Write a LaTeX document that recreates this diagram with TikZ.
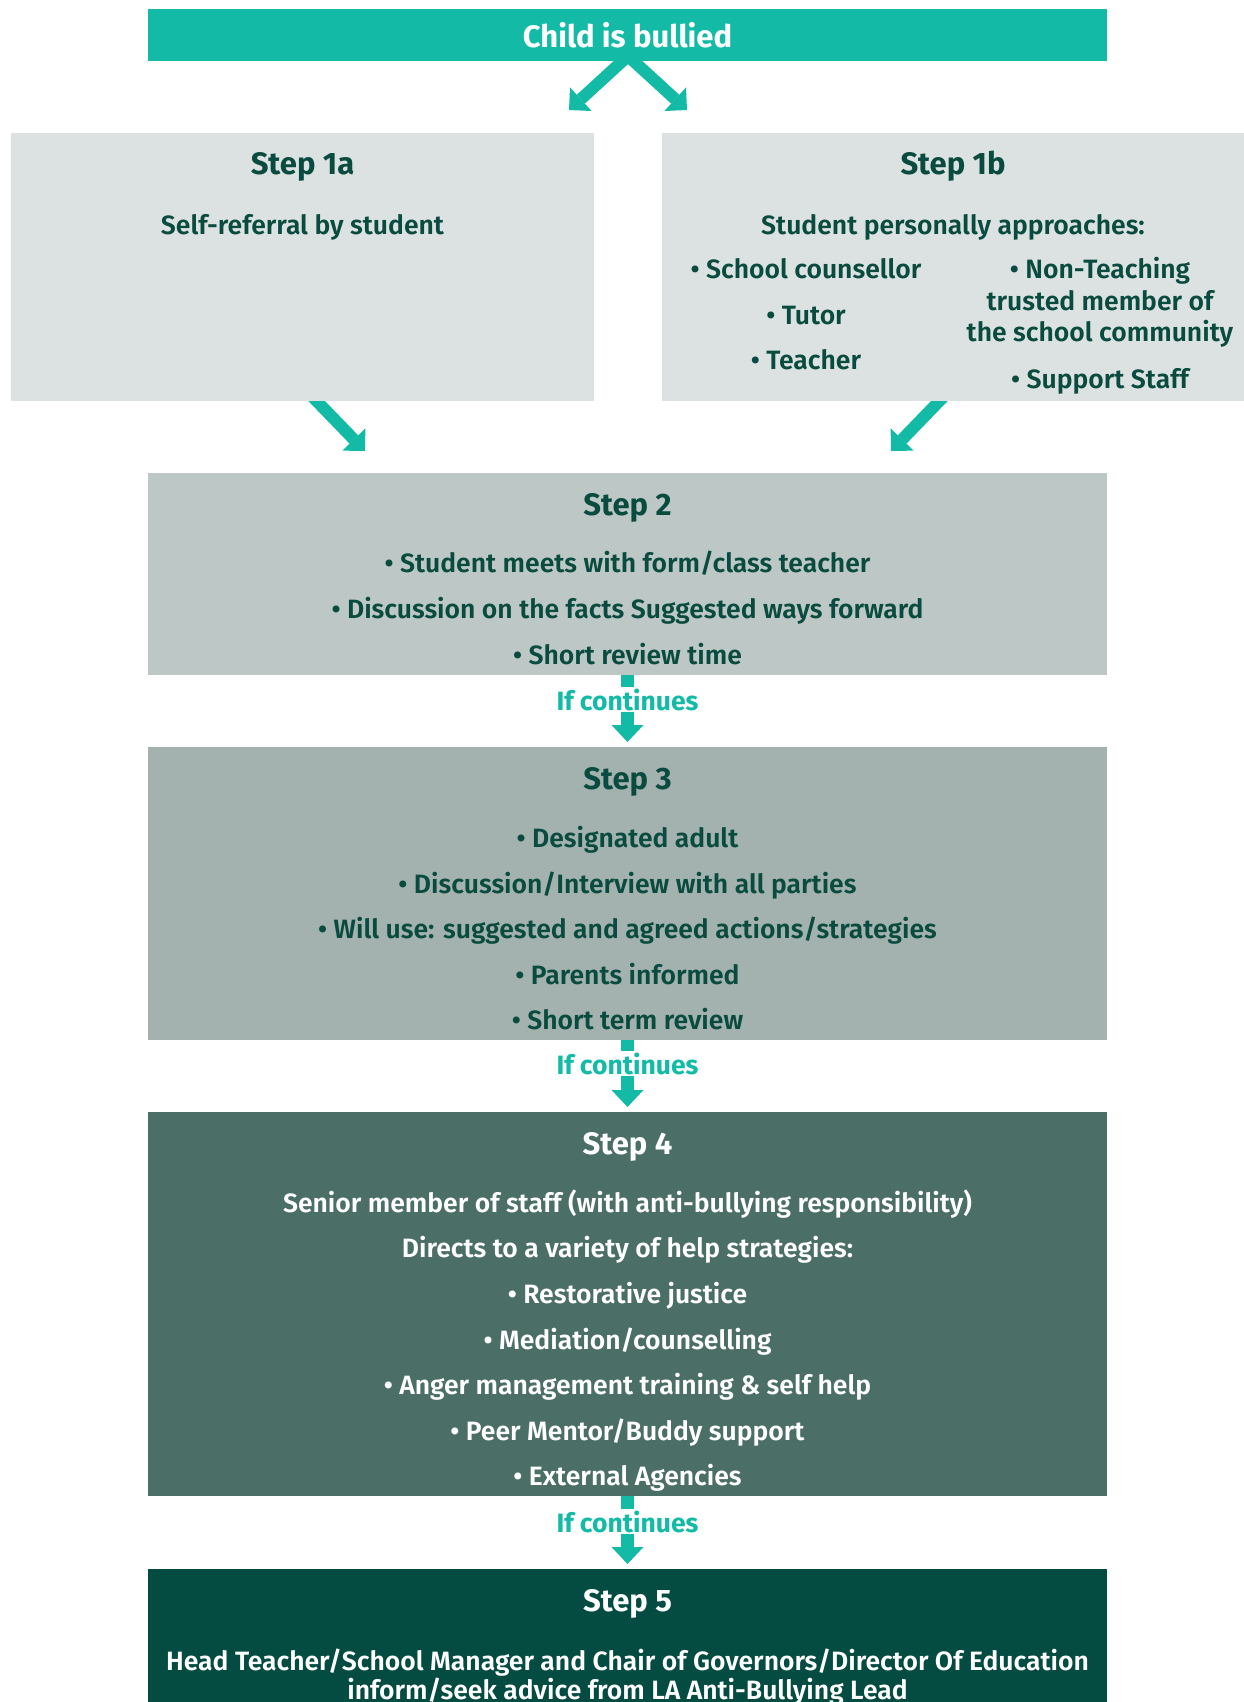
\documentclass[tikz,border=0pt]{standalone}
\usepackage{fontspec}
\setmainfont{Fira Sans}[UprightFont=* SemiBold,BoldFont=* Bold]
\usetikzlibrary{arrows.meta,backgrounds}
\definecolor{tealc}{HTML}{13BBA6}
\definecolor{boxa}{HTML}{DCE2E2}
\definecolor{boxb}{HTML}{BDC8C6}
\definecolor{boxc}{HTML}{A3B1AF}
\definecolor{boxd}{HTML}{4B6F67}
\definecolor{boxe}{HTML}{044B41}
\definecolor{darkt}{HTML}{0A4B3F}
\begin{document}
\begin{tikzpicture}[x=1pt,y=-1pt,
 panel/.style={inner sep=0pt, outer sep=0pt, anchor=north west},
 body/.style={inner sep=0pt, anchor=base, text=darkt, font=\fontsize{26.5}{30}\selectfont},
 wbody/.style={body, text=white},
 title/.style={inner sep=0pt, anchor=base, text=darkt, font=\bfseries\fontsize{31}{36}\selectfont},
 wtitle/.style={title, text=white},
 diag/.style={draw=tealc, line width=12pt, -{Triangle[length=16pt,width=32pt,line width=0pt]}},
 vert/.style={draw=tealc, line width=13pt, -{Triangle[length=17pt,width=32pt,line width=0pt]}},
 cont/.style={inner xsep=0pt, inner ysep=2pt, fill=white, text=tealc, font=\bfseries\fontsize{26.5}{30}\selectfont, anchor=base}
]
\useasboundingbox (0,0) rectangle (1244,1702);

% panels
\node[panel, fill=tealc, minimum width=959pt, minimum height=52pt] (top) at (148,9) {};
\node[panel, fill=boxa, minimum width=583pt, minimum height=268pt] (s1a) at (11,133) {};
\node[panel, fill=boxa, minimum width=582pt, minimum height=268pt] (s1b) at (662,133) {};
\node[panel, fill=boxb, minimum width=959pt, minimum height=202pt] (s2) at (148,473) {};
\node[panel, fill=boxc, minimum width=959pt, minimum height=293pt] (s3) at (148,747) {};
\node[panel, fill=boxd, minimum width=959pt, minimum height=384pt] (s4) at (148,1112) {};
\node[panel, fill=boxe, minimum width=959pt, minimum height=133pt] (s5) at (148,1569) {};

% texts
\node[wtitle] (ttop) at (627.5,48) {Child is bullied};

\node[title] (t1a) at (302.5,174) {Step 1a};
\node[body] (b1a) at (302.5,234) {Self-referral by student};

\node[title] (t1b) at (953,174) {Step 1b};
\node[body] (b1b) at (953,234) {Student personally approaches:};
\node[body] (b1b1) at (806,278) {• School counsellor};
\node[body] (b1b2) at (806,324) {• Tutor};
\node[body] (b1b3) at (806,369) {• Teacher};
\node[body] (b1b4) at (1100,278) {• Non-Teaching};
\node[body] (b1b5) at (1100,310) {trusted member of};
\node[body] (b1b6) at (1100,341) {the school community};
\node[body] (b1b7) at (1100,388) {• Support Staff};

\node[title] (t2) at (627.5,515) {Step 2};
\node[body] (b21) at (627.5,572) {• Student meets with form/class teacher};
\node[body] (b22) at (627.5,618) {• Discussion on the facts Suggested ways forward};
\node[body] (b23) at (627.5,664) {• Short review time};

\node[title] (t3) at (627.5,789) {Step 3};
\node[body] (b31) at (627.5,847) {• Designated adult};
\node[body] (b32) at (627.5,893) {• Discussion/Interview with all parties};
\node[body] (b33) at (627.5,938) {• Will use: suggested and agreed actions/strategies};
\node[body] (b34) at (627.5,984) {• Parents informed};
\node[body] (b35) at (627.5,1029) {• Short term review};

\node[wtitle] (t4) at (627.5,1154) {Step 4};
\node[wbody] (b41) at (627.5,1212) {Senior member of staff (with anti-bullying responsibility)};
\node[wbody] (b42) at (627.5,1257) {Directs to a variety of help strategies:};
\node[wbody] (b43) at (627.5,1303) {• Restorative justice};
\node[wbody] (b44) at (627.5,1349) {• Mediation/counselling};
\node[wbody] (b45) at (627.5,1394) {• Anger management training \& self help};
\node[wbody] (b46) at (627.5,1440) {• Peer Mentor/Buddy support};
\node[wbody] (b47) at (627.5,1485) {• External Agencies};

\node[wtitle] (t5) at (627.5,1611) {Step 5};
\node[wbody] (b51) at (627.5,1670) {Head Teacher/School Manager and Chair of Governors/Director Of Education};
\node[wbody] (b52) at (627.5,1699) {inform/seek advice from LA Anti-Bullying Lead};

% diagonal arrows
\coordinate (apex) at (628,56);
\coordinate (tipL) at (569,110);
\coordinate (tipR) at (687,110);
\draw[diag] (apex) -- (tipL);
\draw[diag] (apex) -- (tipR);

\coordinate (fromA) at (306,390);
\coordinate (toA) at (365,451);
\coordinate (fromB) at (950,390);
\coordinate (toB) at (891,451);
\begin{pgfonlayer}{background}
\fill[white] (0,0) rectangle (1244,1702);
\draw[diag] (fromA) -- (toA);
\draw[diag] (fromB) -- (toB);
\end{pgfonlayer}

% vertical arrows
\draw[vert] (s2.south) -- ([yshift=5pt]s3.north);
\draw[vert] (s3.south) -- ([yshift=5pt]s4.north);
\draw[vert] (s4.south) -- ([yshift=5pt]s5.north);
\node[cont] (c1) at (627.5,710) {If continues};
\node[cont] (c2) at (627.5,1074) {If continues};
\node[cont] (c3) at (627.5,1532) {If continues};
\end{tikzpicture}
\end{document}
